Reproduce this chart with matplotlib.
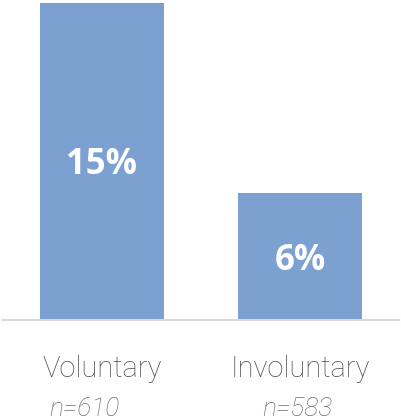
import matplotlib.pyplot as plt
from matplotlib.transforms import offset_copy

categories = ["Voluntary", "Involuntary"]
shares = [15, 6]
sample_sizes = [610, 583]

BAR_COLOR = "#7CA0D0"

fig = plt.figure(figsize=(4.01, 4.17), dpi=100)
ax = fig.add_axes([3 / 401, 97 / 417, 396 / 401, 317 / 417])

x = list(range(len(categories)))
bars = ax.bar(x, shares, width=0.626, color=BAR_COLOR, zorder=2)

ax.set_xlim(-0.5, 1.5)
ax.set_ylim(0, 15)
for side in ["top", "left", "right"]:
    ax.spines[side].set_visible(False)
ax.spines["bottom"].set_color("#D9D9D9")
ax.spines["bottom"].set_linewidth(1.5)
ax.set_xticks([])
ax.set_yticks([])

# percentage inside each bar
for b, v in zip(bars, shares):
    t = offset_copy(ax.transData, fig=fig, x=0, y=-4, units="dots")
    ax.text(b.get_x() + b.get_width() / 2, v / 2, f"{v}%", transform=t,
            ha="center", va="center", color="white",
            fontsize=25, fontweight="bold", family="Open Sans")

# category name and sample size under the axis
n_shift = [-18, -3]
for xi, cat, n, dx in zip(x, categories, sample_sizes, n_shift):
    t1 = offset_copy(ax.get_xaxis_transform(), fig=fig, x=0, y=-57, units="dots")
    ax.text(xi, 0, cat, transform=t1, ha="center", va="baseline",
            fontsize=21, color="#505050", family="Roboto", fontweight="light")
    t2 = offset_copy(ax.get_xaxis_transform(), fig=fig, x=dx, y=-96, units="dots")
    ax.text(xi, 0, f"n={n}", transform=t2, ha="center", va="baseline",
            fontsize=19, color="#6E6E6E", family="Roboto", fontweight="light",
            style="italic")

fig.savefig("out.png", dpi=100)
